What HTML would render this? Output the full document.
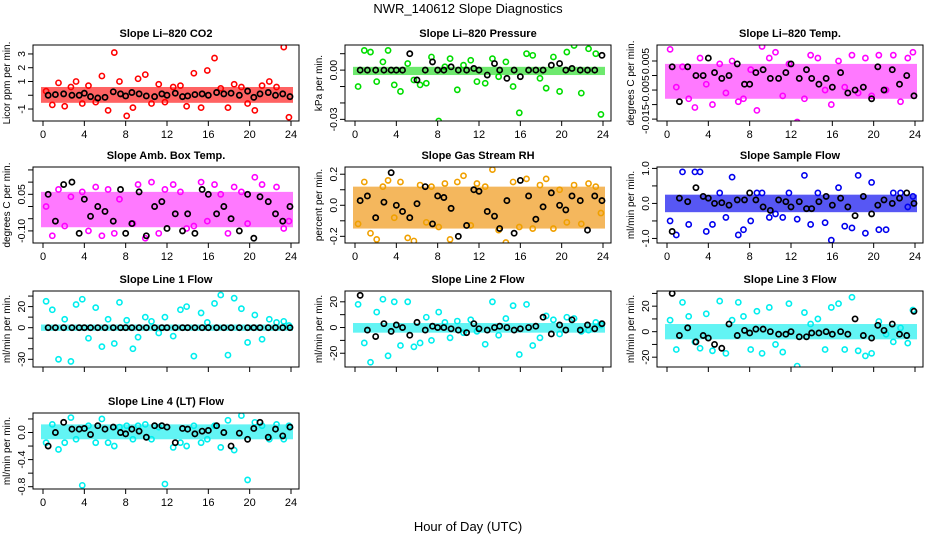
<!DOCTYPE html>
<html><head><meta charset="utf-8"><style>
html,body{margin:0;padding:0;background:#fff;}
svg{display:block;font-family:"Liberation Sans",sans-serif;}
</style></head><body>
<svg id="chart" width="936" height="540" viewBox="0 0 936 540" xmlns="http://www.w3.org/2000/svg">
<rect width="936" height="540" fill="#fff"/>
<text x="468" y="13" text-anchor="middle" font-size="13">NWR_140612  Slope Diagnostics</text>
<text x="468" y="531" text-anchor="middle" font-size="13">Hour of Day (UTC)</text>
</svg>
<script>
const xTicks = [0,4,8,12,16,20,24];
const outHours = [0.3,0.9,1.5,2.1,2.7,3.2,3.8,4.4,5.1,5.7,6.3,6.9,7.4,8.1,8.7,9.2,9.9,10.5,11.2,11.8,12.6,13.3,13.9,14.6,15.3,15.9,16.6,17.2,17.9,18.5,19.2,19.8,20.5,21.2,21.9,22.6,23.3,23.8];
const blackHours = [0.5,1.2,2,2.8,3.5,4,4.6,5.3,6,6.8,7.5,8,8.6,9.3,10,10.8,11.5,12,12.8,13.5,14,14.7,15.4,16,16.8,17.5,18.2,19,19.8,20.4,21,21.8,22.5,23.2,23.9];

const co2Out = [0.3,-0.7,0.9,-0.8,0.6,1.0,-0.6,0.7,-0.5,1.4,-1.1,3.1,1.0,-1.5,-0.9,1.2,1.5,-0.6,0.8,-0.5,0.6,0.7,-0.8,1.6,-0.9,1.8,2.7,0.5,-0.9,0.8,0.6,-0.6,-1.1,0.7,1.0,0.6,3.5,-1.6];
const co2Mean = [0,0.05,0.1,0,0,0.15,-0.1,-0.2,-0.15,0.25,0.1,-0.05,0.2,0.1,-0.05,-0.1,0.1,0,0.15,-0.1,-0.05,0.05,0.1,0,0.2,0.1,0.15,0,0.3,-0.15,0.1,0.2,0,0.1,-0.1];
const presOut = [-0.010,0.012,0.011,-0.007,0.005,0.012,-0.009,-0.013,0.004,-0.006,-0.009,-0.008,0.008,-0.031,0.002,0.007,-0.012,0.003,0.006,-0.007,-0.008,0.007,-0.004,0.005,-0.010,-0.026,0.010,0.009,-0.005,-0.011,0.008,-0.013,0.011,0.015,-0.014,0.013,0.010,-0.027];
const presMean = [0,0,0,0,0,0,0,0.01,-0.006,0,0.005,0,0,0.002,0,0,0.001,0,-0.003,0.004,0,-0.005,0,-0.004,0,0,0,0.003,0.004,0,0.001,0,0,0,0.009];
const tempOut = [0.009,-0.004,0.003,-0.008,-0.011,0.006,-0.003,-0.010,0.004,-0.006,0.005,-0.009,-0.008,0.002,-0.012,0.010,0.006,0.008,-0.007,0.004,-0.016,-0.008,0.007,0.006,-0.005,-0.010,0.005,-0.004,0.007,-0.006,0.006,-0.007,0.007,-0.005,0.007,-0.009,0.006,0.008];
const tempMean = [0.003,-0.009,0.003,0,0,0.006,0.001,-0.001,0,0.004,-0.003,-0.003,0.001,0.002,-0.001,-0.001,0.001,0.004,-0.001,0.002,-0.001,-0.003,-0.001,-0.004,0.001,-0.006,-0.005,-0.004,-0.008,0.003,-0.005,0.002,-0.003,0,-0.007];
const ambOut = [0,-0.12,0.07,-0.08,0.04,-0.18,0.06,-0.10,0.08,-0.12,0.07,-0.11,0.03,0.20,-0.07,0.09,-0.13,0.10,-0.11,0.07,0.09,0.06,-0.09,-0.08,0.10,-0.06,0.09,0.05,-0.11,0.08,0.06,-0.07,0.12,0.09,-0.19,0.08,-0.09,-0.06];
const ambMean = [0.05,-0.06,0.09,0.10,-0.11,0.03,-0.04,0,-0.02,-0.06,0.07,-0.11,-0.07,0.06,-0.12,0,0.02,-0.09,-0.03,-0.1,-0.03,-0.11,0.07,0.05,-0.03,0,-0.05,-0.1,0.05,-0.13,0.04,0.02,-0.03,-0.06,0];
const rhOut = [-0.12,0.15,-0.18,-0.22,0.12,0.16,-0.08,0.15,-0.21,-0.23,0.13,-0.11,0.12,-0.14,0.14,-0.22,0.15,0.19,-0.13,0.14,0.12,0.23,-0.16,-0.24,0.15,-0.14,0.17,-0.15,0.13,0.17,-0.15,0.10,-0.11,0.13,-0.12,0.14,0.12,-0.05];
const rhMean = [0.03,0.06,-0.08,0.02,0.21,0,-0.04,-0.08,0.01,0.12,-0.12,0.06,0.05,-0.02,-0.2,-0.13,0.1,0.09,-0.04,-0.07,-0.15,0.03,-0.18,0.16,0.06,-0.09,-0.01,0.08,0,-0.03,0.06,0.03,-0.16,0.06,0.03];
const sfOut = [-0.5,-0.9,0.9,-0.6,0.9,0.9,-0.8,-0.6,0.3,-0.4,0.75,-0.9,-0.75,-0.5,0.3,0.3,-0.4,-0.3,-0.4,0.3,-0.45,0.8,-0.6,0.3,-0.55,-1.05,0.45,-0.65,-0.7,0.8,-0.85,0.6,-0.75,-0.75,0.3,0.3,-0.1,0.2];
const sfMean = [-0.8,0.15,0.05,0.45,0.2,0.15,0,0.02,-0.05,0.1,0.1,0.3,0.1,-0.1,-0.2,0.1,0.05,-0.1,0.05,-0.15,-0.15,0.05,0.2,-0.05,0.15,-0.1,-0.35,0.2,-0.3,-0.05,0.1,0,0.15,0.3,0];
const l1Out = [25,17,-30,8,-32,22,27,-10,19,-18,8,-15,24,7,-20,-9,10,6,-5,10,-8,17,20,-27,14,5,23,31,-26,28,18,-14,12,-11,8,5,6,2];
const l1Mean = [0,0,0,0,0,0,0,0,0,0,0,0,0,0,0,0,0,0,0,0,0,0,0,0,0,0,0,0,0,0,0,0,0,0,0];
const l2Out = [18,-12,-27,12,22,-22,20,-14,20,-15,-12,8,-10,12,4,-8,5,-4,6,-3,-13,20,-6,7,17,-21,18,-14,-8,9,6,-5,8,7,-3,-2,4,2];
const l2Mean = [25,-2,-7,3,-3,2,0,-6,4,-2,1,0,0,-1,-2,-4,3,-1,-2,0,1,0,-2,-1,0,1,8,-5,2,-2,6,-2,2,-1,3];
const l3Out = [9,-14,23,12,-8,-13,14,-15,24,-17,9,23,12,-14,16,-17,19,-10,-16,22,-27,15,6,10,-14,19,22,-14,27,-15,-19,-17,8,-2,-8,3,-9,17];
const l3Mean = [30,-3,3,-8,-3,-5,-10,-13,6,-3,1,-1,2,2,0,-2,-2,0,-4,-4,-1,-1,0,-2,0,-2,10,-3,-5,5,1,6,-2,-3,16];
const l4Out = [-0.15,0.12,-0.25,-0.15,0.22,-0.1,-0.78,0.1,-0.15,0.2,-0.15,-0.2,0.08,0.1,-0.1,0.1,0.12,-0.1,0.08,-0.76,-0.22,-0.15,-0.2,0.1,-0.15,-0.1,0.1,-0.22,0.18,-0.26,0.25,-0.7,0.15,0.1,-0.1,0.12,-0.1,0.1];
const l4Mean = [-0.2,0,0.15,0.05,0.05,0.06,-0.03,0.1,0.05,0.08,0,-0.02,0.05,0.02,-0.07,0.1,0.1,0.08,-0.15,0.06,0.05,-0.02,0.02,0.03,0.1,0,-0.2,-0.01,-0.1,0.06,0.15,-0.07,0.05,-0.05,0.08];

const panels = [
 {name:'co2',title:'Slope Li\u2013820 CO2',ylab:'Licor ppm per min.',col:0,row:0,ymin:-1.87,ymax:3.65,ticks:[-1,0,1,2,3],labels:['-1','','1','2','3'],color:'#ff0000',band:'#ff2020',core:[-0.55,0.6],out:co2Out,mean:co2Mean,xl:true},
 {name:'pressure',title:'Slope Li\u2013820 Pressure',ylab:'kPa per min.',col:1,row:0,ymin:-0.031,ymax:0.0153,ticks:[0.01,0,-0.01,-0.02,-0.03],labels:['','0.00','','','-0.03'],color:'#00dd00',band:'#30e030',core:[-0.003,0.002],out:presOut,mean:presMean,xl:true},
 {name:'temp',title:'Slope Li\u2013820 Temp.',ylab:'degrees C per min.',col:2,row:0,ymin:-0.01565,ymax:0.0105,ticks:[0.005,0,-0.005,-0.01,-0.015],labels:['0.005','','-0.005','','-0.015'],color:'#ff00ff',band:'#ff40ff',core:[-0.008,0.004],out:tempOut,mean:tempMean,xl:true},
 {name:'amb-box',title:'Slope Amb. Box Temp.',ylab:'degrees C per min.',col:0,row:1,ymin:-0.1496,ymax:0.162,ticks:[0.15,0.1,0.05,0,-0.05,-0.1],labels:['','','0.05','','','-0.10'],color:'#ff00ff',band:'#ff40ff',core:[-0.085,0.06],out:ambOut,mean:ambMean,xl:true},
 {name:'gas-rh',title:'Slope Gas Stream RH',ylab:'percent per min.',col:1,row:1,ymin:-0.243,ymax:0.2465,ticks:[0.2,0.1,0,-0.1,-0.2],labels:['0.2','','0.0','','-0.2'],color:'#f0a000',band:'#f09818',core:[-0.15,0.12],out:rhOut,mean:rhMean,xl:true},
 {name:'sample-flow',title:'Slope Sample Flow',ylab:'ml/min per min.',col:2,row:1,ymin:-1.13,ymax:1.04,ticks:[1,0.5,0,-0.5,-1],labels:['1.0','','0.0','','-1.0'],color:'#0000ee',band:'#1010f0',core:[-0.25,0.25],out:sfOut,mean:sfMean,xl:true},
 {name:'line1-flow',title:'Slope Line 1 Flow',ylab:'ml/min per min.',col:0,row:2,ymin:-37.3,ymax:34.8,ticks:[30,20,10,0,-10,-20,-30],labels:['','20','','0','','','-30'],color:'#00eeee',band:'#20f0f0',core:[-3,3],out:l1Out,mean:l1Mean,xl:false},
 {name:'line2-flow',title:'Slope Line 2 Flow',ylab:'ml/min per min.',col:1,row:2,ymin:-30.7,ymax:28.4,ticks:[20,10,0,-10,-20],labels:['20','','0','','-20'],color:'#00eeee',band:'#20f0f0',core:[-4,3.5],out:l2Out,mean:l2Mean,xl:false},
 {name:'line3-flow',title:'Slope Line 3 Flow',ylab:'ml/min per min.',col:2,row:2,ymin:-27.7,ymax:31.9,ticks:[30,20,10,0,-10,-20],labels:['','20','','0','','-20'],color:'#00eeee',band:'#20f0f0',core:[-6,6],out:l3Out,mean:l3Mean,xl:false},
 {name:'line4-flow',title:'Slope Line 4 (LT) Flow',ylab:'ml/min per min.',col:0,row:3,ymin:-0.834,ymax:0.288,ticks:[0.2,0,-0.2,-0.4,-0.6,-0.8],labels:['','0.0','','-0.4','','-0.8'],color:'#00eeee',band:'#20f0f0',core:[-0.1,0.12],out:l4Out,mean:l4Mean,xl:true}
];

const NS='http://www.w3.org/2000/svg';
const svg=document.getElementById('chart');
const colLeft=[33,345,657], rowTop=[45,167,291,413], W=266, H=76;
function mk(tag,attrs,parent){const e=document.createElementNS(NS,tag);for(const k in attrs)e.setAttribute(k,attrs[k]);parent.appendChild(e);return e;}

panels.forEach(p=>{
  const L=colLeft[p.col], T=rowTop[p.row];
  const g=mk('g',{},svg);
  
  
  const xs=h=>L+10+h*(248/24);
  const ys=v=>T+H-(v-p.ymin)/(p.ymax-p.ymin)*H;
  const t=mk('text',{x:L+W/2,y:T-8,'text-anchor':'middle','font-size':'11','font-weight':'bold'},g);
  
  
  t.textContent=p.title;
  const yl=mk('text',{x:0,y:0,'text-anchor':'middle','font-size':'10',transform:`translate(${L-23},${T+H/2}) rotate(-90)`},g);
  
  
  yl.textContent=p.ylab;
  const cid='clip-'+p.name;
  const cp=mk('clipPath',{id:cid},g); mk('rect',{x:L,y:T,width:W,height:H},cp);
  const pg=mk('g',{'clip-path':`url(#${cid})`},g);
  const band=mk('rect',{x:xs(0)-2,y:ys(p.core[1]),width:xs(24)-xs(0)+4,height:ys(p.core[0])-ys(p.core[1]),fill:p.band,opacity:'0.7'},pg);
  
  
  outHours.forEach((h,i)=>{
    const c=mk('circle',{cx:xs(h),cy:ys(p.out[i]),r:2.6,fill:'none',stroke:p.color,'stroke-width':1.6},pg);
    
    
  });
  blackHours.forEach((h,i)=>{
    const c=mk('circle',{cx:xs(h),cy:ys(p.mean[i]),r:2.6,fill:'none',stroke:'#000','stroke-width':1.7},pg);
    
    
  });
  const box=mk('rect',{x:L,y:T,width:W,height:H,fill:'none',stroke:'#000','stroke-width':1},g);
  
  
  xTicks.forEach(v=>{
    mk('line',{x1:xs(v),x2:xs(v),y1:T+H,y2:T+H+5,stroke:'#000'},g);
    if(p.xl){
      const tl=mk('text',{x:xs(v),y:T+H+17,'text-anchor':'middle','font-size':'11'},g);
      
      
      tl.textContent=v;
    }
  });
  p.ticks.forEach((v,i)=>{
    mk('line',{x1:L,x2:L-5,y1:ys(v),y2:ys(v),stroke:'#000'},g);
    if(p.labels[i]){
      const tl=mk('text',{x:0,y:0,'text-anchor':'middle','font-size':'10.5',transform:`translate(${L-8},${ys(v)}) rotate(-90)`},g);
      
      
      tl.textContent=p.labels[i];
    }
  });
});
</script>
</body></html>
